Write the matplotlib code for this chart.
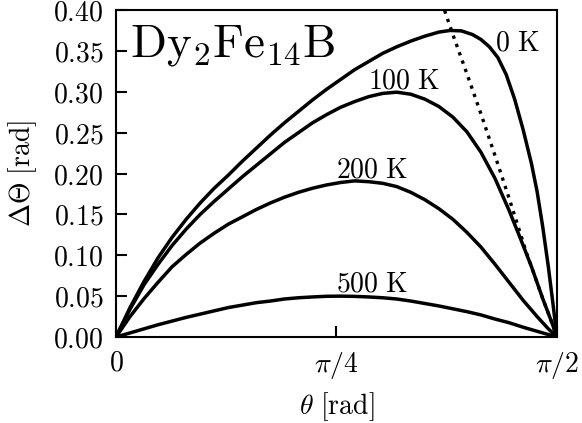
import matplotlib
matplotlib.use('Agg')
import matplotlib.pyplot as plt
import numpy as np

plt.rcParams['mathtext.fontset'] = 'cm'
plt.rcParams['font.family'] = 'serif'

# curves: theta [rad], delta Theta [rad]
th_0K = [0, 0.05, 0.1, 0.15, 0.2, 0.25, 0.3, 0.35, 0.4, 0.45, 0.5, 0.55, 0.6,
         0.65, 0.7, 0.75, 0.8, 0.85, 0.9, 0.95, 1.0, 1.05, 1.1, 1.15, 1.19, 1.23,
         1.27, 1.30, 1.33, 1.36, 1.39, 1.42, 1.45, 1.48, 1.50, 1.52, 1.54, 1.555,
         np.pi / 2]
d_0K = [0, 0.036, 0.068, 0.097, 0.122, 0.144, 0.164, 0.182, 0.198, 0.215, 0.231,
        0.247, 0.262, 0.276, 0.290, 0.303, 0.315, 0.327, 0.337, 0.347, 0.355,
        0.362, 0.368, 0.373, 0.375, 0.3745, 0.370, 0.364, 0.355, 0.342, 0.321,
        0.291, 0.254, 0.212, 0.178, 0.135, 0.086, 0.045, 0]

th_100K = [0, 0.05, 0.1, 0.15, 0.2, 0.25, 0.3, 0.35, 0.4, 0.45, 0.5, 0.55, 0.6,
           0.65, 0.7, 0.75, 0.8, 0.85, 0.9, 0.95, 1.0, 1.05, 1.1, 1.15, 1.2, 1.25,
           1.3, 1.35, 1.4, 1.44, 1.48, 1.52, 1.55, np.pi / 2]
d_100K = [0, 0.034, 0.064, 0.089, 0.112, 0.132, 0.150, 0.166, 0.181, 0.196,
          0.210, 0.224, 0.238, 0.250, 0.262, 0.272, 0.281, 0.288, 0.294, 0.298,
          0.2995, 0.297, 0.291, 0.282, 0.269, 0.251, 0.226, 0.194, 0.155, 0.121,
          0.086, 0.047, 0.020, 0]

th_200K = [0, 0.05, 0.1, 0.15, 0.2, 0.25, 0.3, 0.35, 0.4, 0.45, 0.5, 0.55, 0.6,
           0.65, 0.7, 0.75, 0.8, 0.85, 0.9, 0.95, 1.0, 1.05, 1.1, 1.15, 1.2, 1.25,
           1.3, 1.35, 1.4, 1.45, 1.5, 1.54, np.pi / 2]
d_200K = [0, 0.025, 0.047, 0.067, 0.086, 0.101, 0.115, 0.127, 0.138, 0.147,
          0.156, 0.164, 0.171, 0.177, 0.182, 0.186, 0.189, 0.191, 0.190, 0.188,
          0.184, 0.177, 0.168, 0.157, 0.144, 0.128, 0.110, 0.089, 0.067, 0.045,
          0.025, 0.010, 0]

th_500K = [0, 0.05, 0.1, 0.15, 0.2, 0.25, 0.3, 0.35, 0.4, 0.45, 0.5, 0.55, 0.6,
           0.65, 0.7, 0.75, 0.8, 0.85, 0.9, 0.95, 1.0, 1.05, 1.1, 1.15, 1.2, 1.25,
           1.3, 1.35, 1.4, 1.45, 1.5, 1.52, np.pi / 2]
d_500K = [0, 0.005, 0.010, 0.015, 0.0195, 0.024, 0.028, 0.032, 0.036, 0.039,
          0.042, 0.044, 0.0465, 0.048, 0.049, 0.0498, 0.050, 0.0497, 0.049, 0.048,
          0.0465, 0.044, 0.041, 0.038, 0.0345, 0.031, 0.027, 0.022, 0.0175, 0.012,
          0.007, 0.005, 0]

# dotted limit line
th_lim = [1.165, 1.17, 1.20, 1.25, 1.30, 1.35, 1.40, 1.44, 1.463, 1.48, 1.52, 1.55, np.pi / 2]
d_lim = [0.41, 0.40, 0.370, 0.322, 0.273, 0.222, 0.170, 0.127, 0.102, 0.086, 0.047, 0.020, 0]

labels = [r'$\mathrm{0\ K}$', r'$\mathrm{100\ K}$', r'$\mathrm{200\ K}$', r'$\mathrm{500\ K}$']
label_pos = [(1.350, 0.351), (1.027, 0.304), (0.914, 0.195), (0.914, 0.056)]

yticks = [0.00, 0.05, 0.10, 0.15, 0.20, 0.25, 0.30, 0.35, 0.40]
xticks = [0, np.pi / 4, np.pi / 2]
xticklabels = [r'$0$', r'$\pi/4$', r'$\pi/2$']

fs = 20

fig = plt.figure(figsize=(5.82, 4.23), dpi=100)
ax = fig.add_axes([0.1993, 0.2033, 0.7577, 0.7730])

lw = 2.5
ax.plot(th_0K, d_0K, 'k-', lw=lw)
ax.plot(th_100K, d_100K, 'k-', lw=lw)
ax.plot(th_200K, d_200K, 'k-', lw=lw)
ax.plot(th_500K, d_500K, 'k-', lw=lw)
ax.plot(th_lim, d_lim, 'k:', lw=2.4)

ax.text(label_pos[0][0], label_pos[0][1], labels[0], fontsize=fs, ha='left', va='baseline')
for lab, (x, y) in zip(labels[1:], label_pos[1:]):
    ax.text(x, y, lab, fontsize=fs, ha='center', va='baseline')

ax.text(0.050, 0.343, r'$\mathrm{Dy_2Fe_{14}B}$', fontsize=34, ha='left', va='baseline')

ax.set_xlim(0, np.pi / 2)
ax.set_ylim(0, 0.40)
ax.set_xticks(xticks)
ax.set_xticklabels(xticklabels)
ax.set_yticks(yticks)
ax.set_yticklabels([r'$%.2f$' % v for v in yticks])
ax.tick_params(direction='in', length=8, width=1.5, labelsize=fs)
ax.tick_params(axis='y', pad=9)
ax.tick_params(axis='x', pad=9)
for s in ax.spines.values():
    s.set_linewidth(1.5)

ax.set_xlabel(r'$\theta\ [\mathrm{rad}]$', fontsize=fs, labelpad=7)
ax.set_ylabel(r'$\Delta\Theta\ [\mathrm{rad}]$', fontsize=fs, labelpad=10)

fig.savefig('out.png', dpi=100)
